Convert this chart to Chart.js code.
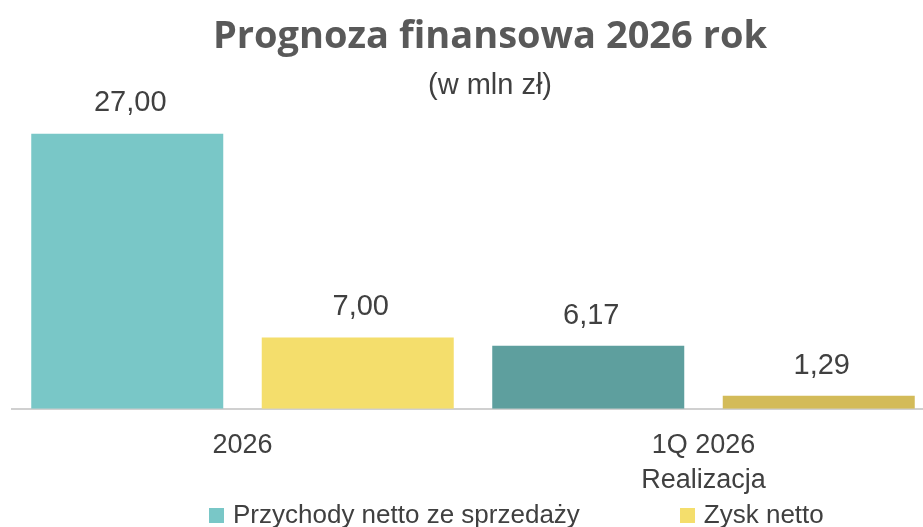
<!DOCTYPE html>
<html lang="pl">
<head>
<meta charset="utf-8">
<title>Prognoza finansowa 2026 rok</title>
<script src="https://cdn.jsdelivr.net/npm/chart.js@4.4.1/dist/chart.umd.min.js"></script>
<style>
  html, body { margin: 0; padding: 0; background: #fff; overflow: hidden; }
  #wrap { position: relative; width: 980px; height: 527px; }
  #legenda {
    position: absolute; left: 209px; top: 501px;
    display: flex; gap: 100px;
    font: 26px "Liberation Sans", Arial, sans-serif; line-height: 26px; color: #404040;
  }
  #legenda .poz { display: flex; align-items: center; white-space: nowrap; }
  #legenda .kw { display: inline-block; width: 15px; height: 15px; margin-right: 9px; margin-top: 3px; }
</style>
</head>
<body>
<div id="wrap">
  <canvas id="wykres" width="980" height="527"></canvas>
  <div id="legenda"></div>
</div>
<script>
// dane z wykresu (mln zł)
const kategorie = [['2026'], ['1Q 2026', 'Realizacja']]
const przychody = [27.00, 6.17]
const zysk = [7.00, 1.29]
const kolorPrzychody = ['#79c7c7', '#5e9f9e']
const kolorZysk = ['#f4de6c', '#d3bb59']

const czcionka = '"Liberation Sans", Arial, sans-serif'
Chart.defaults.font.family = czcionka
Chart.defaults.color = '#404040'

const formatuj = v => v.toFixed(2).replace('.', ',')

// etykiety wartosci nad slupkami
const etykietyWartosci = {
    id: 'etykietyWartosci',
    afterDatasetsDraw(chart) {
        const ctx = chart.ctx
        ctx.save()
        ctx.font = '29px ' + czcionka
        ctx.fillStyle = '#404040'
        ctx.textAlign = 'center'
        ctx.textBaseline = 'alphabetic'
        chart.data.datasets.forEach((ds, i) => {
            chart.getDatasetMeta(i).data.forEach((bar, j) => {
                ctx.fillText(formatuj(ds.data[j]), bar.x + 3, bar.y - 22)
            })
        })
        ctx.restore()
    }
}

var ctx = document.getElementById('wykres').getContext('2d')

var wykres = new Chart(ctx, {
    type: 'bar',
    data: {
        labels: kategorie,
        datasets: [{
            label: 'Przychody netto ze sprzedaży',
            data: przychody,
            backgroundColor: kolorPrzychody
        }, {
            label: 'Zysk netto',
            data: zysk,
            backgroundColor: kolorZysk
        }]
    },
    options: {
        responsive: false,
        animation: false,
        layout: { padding: { left: 12, right: 12, top: 0, bottom: 10 } },
        categoryPercentage: 1,
        barPercentage: 0.833,
        scales: {
            x: {
                grid: { display: false, drawTicks: false },
                border: { color: '#d0d0d0', width: 2 },
                ticks: {
                    color: '#404040',
                    font: { size: 27, lineHeight: 1.3 },
                    padding: 19
                }
            },
            y: {
                // pusta os po prawej - przesuwa tytul wzgledem slupkow
                position: 'right',
                min: 0,
                max: Math.max(...przychody),
                grid: { display: false, drawTicks: false },
                border: { display: false },
                ticks: { display: false },
                afterFit: scale => { scale.width = 34 }
            }
        },
        plugins: {
            legend: { display: false },
            tooltip: { enabled: false },
            title: {
                display: true,
                text: 'Prognoza finansowa 2026 rok',
                color: '#595959',
                font: { family: '"Open Sans", ' + czcionka, size: 38, weight: 'bold', lineHeight: 1.2 },
                padding: { top: 14, bottom: 0 }
            },
            subtitle: {
                display: true,
                text: '(w mln zł)',
                color: '#404040',
                font: { size: 29, lineHeight: 1.2 },
                padding: { top: 9, bottom: 30 }
            }
        }
    },
    plugins: [etykietyWartosci]
})

// legenda w HTML (odstepy jak w oryginale)
wykres.data.datasets.forEach(ds => {
    $poz = document.createElement('span')
    $poz.className = 'poz'
    $poz.innerHTML = `<span class="kw" style="background:${ds.backgroundColor[0]}"></span>${ds.label}`
    document.getElementById('legenda').appendChild($poz)
})
</script>
</body>
</html>
